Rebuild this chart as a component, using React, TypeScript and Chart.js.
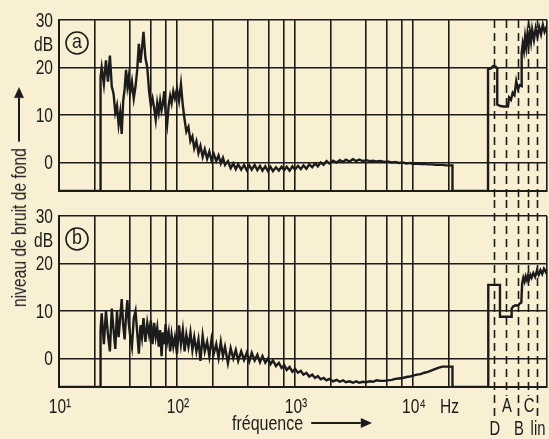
import React, { useEffect, useRef } from 'react';
import { Chart, registerables } from 'chart.js';

Chart.register(...registerables);

// ---------- data ----------
// shared frequency grid (Hz) for the two spectra
const freqHz = [
  10, 22.5, 22.5, 23, 24, 25, 26, 27, 28, 29, 30, 31, 32, 33, 34, 35, 36, 37, 38, 39, 40,
  41.5, 43, 44.5, 46, 47.5, 49, 50.5, 52, 54, 56, 58, 60, 62, 64, 66, 68, 70, 72, 74, 76, 78, 80,
  82.5, 85, 87.5, 90, 93, 96, 100, 104, 108, 112, 116, 120, 125, 130, 135, 140, 146, 152, 158,
  165, 172, 180, 188, 196, 205, 215, 225, 235, 245, 255, 270, 285, 300, 315, 330, 350, 370, 390,
  410, 430, 455, 480, 505, 530, 560, 590, 620, 650, 690, 730, 770, 810, 850, 900, 950, 1000,
  1060, 1120, 1180, 1250, 1320, 1400, 1480, 1560, 1650, 1750, 1850, 1950, 2100, 2250, 2400,
  2550, 2700, 2900, 3100, 3300, 3500, 3750, 4000, 4300, 4600, 4900, 5300, 5700, 6100, 6600,
  7100, 7600, 8200, 8800, 9400, 10000, 10800, 11600, 12500, 13400, 14400, 15500, 16600, 17800,
  19000, 20300, 21600,
];

// panel (a) level, dB
const levelA = [
  -6, -6, 18, 20, 16.5, 21.5, 17, 22.5, 16, 14.5, 10.5, 12, 8, 10.5, 6, 13, 15.5, 19.5, 16, 18, 14.5,
  17, 13.5, 16, 19.5, 25, 21, 24, 27.5, 22, 20, 15, 12, 13.5, 11.5, 9, 12.5, 10.5, 13, 11, 12.5, 15, 10.5,
  8, 12, 14, 12.5, 15, 13.5, 15.5, 13, 16.5, 12, 9, 6.5, 7.5, 4.5, 5.5, 3, 4.5, 2, 3.5,
  1.2, 2.8, 0.8, 2.3, 0.5, 1.8, 0.3, 1.5, -0.2, 1, -0.5, 0.3, -1.2, -0.2, -1.4, -0.4, -1.5, -0.5, -1.6,
  -0.6, -1.5, -0.5, -1.6, -0.7, -1.7, -0.8, -1.8, -0.9, -1.8, -1, -1.7, -0.9, -1.6, -0.9, -1.7, -0.8, -1.5, -0.7,
  -1.4, -0.6, -1.3, -0.4, -1, -0.2, -0.8, 0, -0.5, 0.3, -0.2, 0.4, 0, 0.5, 0.1,
  0.6, 0.2, 0.7, 0.3, 0.6, 0.3, 0.5, 0.3, 0.4, 0.2, 0.3, 0.1, 0.2, 0, 0.1,
  -0.1, 0, -0.2, -0.1, -0.3, -0.2, -0.3, -0.3, -0.4, -0.4, -0.5, -0.5, -0.5, -0.6,
  -0.6, -0.6, -0.6,
];

// panel (b) level, dB
const levelB = [
  -6, -6, 6, 9.5, 3, 10, 5, 1.5, 10.5, 6, 2, 10, 4.5, 8.5, 12.5, 7, 4, 9, 12.3, 7.5, 5,
  2.5, 8.5, 10, 5.5, 1, 7, 4.5, 8.5, 3.5, 7.5, 5, 8, 3, 7.5, 4.5, 6.5, 2.5, 6, 0.5, 5.5, 3, 7.2,
  3.5, 5.5, 1.5, 5, 2.5, 4.5, 1, 7, 3, 6, 1.5, 5, 2.5, 5.5, 1.8, 4.5, 1.5, 4, -0.5,
  4.8, 1.5, 3.5, 0.5, 4, 1, 3, 0.2, 3.5, 0.5, 2.5, -1, 2.2, 0, 1.8, -0.5, 1.5, -0.3, 1.2,
  -0.6, 1.2, -0.4, 0.8, -0.8, 0.5, -0.9, 0, -1.2, -0.4, -1.6, -0.9, -2, -1.4, -2.4, -1.8, -2.8, -2.2,
  -3, -2.6, -3.4, -3, -3.8, -3.4, -4.1, -3.7, -4.4, -4.1, -4.6, -4.3, -4.8, -4.5, -4.9,
  -4.6, -5, -4.8, -5.1, -4.8, -5.1, -4.9, -5, -4.8, -4.9, -4.6, -4.7, -4.7, -4.6, -4.5,
  -4.3, -4.2, -4.1, -3.9, -3.8, -3.6, -3.4, -3.3, -3, -2.8, -2.5, -2.2, -1.9, -1.7,
  -1.7, -1.7, -1.7,
];

// weighted-level section (positions in decades on the pseudo axis beyond 20 kHz)
const weightNames = ['D', 'A', 'B', 'C', 'lin'];
const weightLinePos = [4.686, 4.788, 4.89, 4.975, 5.051];

const weightPosA = [
  4.3345, 4.636, 4.636, 4.66, 4.68, 4.7, 4.714, 4.714, 4.74, 4.77, 4.805, 4.814, 4.83, 4.845,
  4.86, 4.875, 4.89, 4.905, 4.921, 4.921, 4.93, 4.94, 4.95, 4.96, 4.97, 4.98, 4.99, 5.0, 5.01,
  5.025, 5.04, 5.055, 5.07, 5.085, 5.1, 5.115, 5.1356,
];
const weightLevelA = [
  -6, -6, 19.6, 19.8, 20.3, 20.2, 19.8, 12.2, 11.9, 11.8, 11.8, 13.7, 13.2, 14.7,
  14.2, 17.1, 15.5, 16.3, 16.1, 23.1, 25, 23.5, 26.4, 24.3, 27, 25, 27.5, 25.5, 28,
  25.8, 28.3, 26.5, 28.5, 27, 29, 27.5, 28.8,
];

const weightPosB = [
  4.3345, 4.638, 4.638, 4.737, 4.737, 4.836, 4.836, 4.85, 4.87, 4.89, 4.905, 4.918, 4.925,
  4.935, 4.945, 4.955, 4.965, 4.975, 4.985, 4.995, 5.005, 5.02, 5.035, 5.05, 5.065, 5.08,
  5.095, 5.11, 5.125, 5.1356,
];
const weightLevelB = [
  -6, -6, 15.5, 15.5, 8.8, 8.8, 10.5, 11, 11.2, 11.1, 11.6, 11.8, 15.8,
  17, 16.2, 17.3, 16.5, 17.5, 16.8, 17.6, 17, 18, 17.2, 18.5, 17.6, 18.6,
  17.8, 18.9, 18.2, 18.8,
];

// axes
const gridFreqHz = [10, 20, 40, 60, 80, 100, 200, 400, 600, 800, 1000, 2000, 4000, 6000, 8000, 10000, 20000];
const labelFreqHz = [10, 100, 1000, 10000, 20000];
const labelText = ['10¹', '10²', '10³', '10⁴', 'Hz'];
const levelTicks = [0, 10, 20, 25, 30];
const levelTickText = ['0', '10', '20', 'dB', '30'];
const panelTags = ['a', 'b'];

const X_MIN = 1;
const X_MAX = 5.1356;
const Y_MIN = -6;
const Y_MAX = 30;

const BG = '#F9EFD2';
const INK = '#1c1c1c';
const FONT = "'Liberation Sans', Arial, sans-serif";
const SQUEEZE = 0.74;

function squeezedText(ctx: any, text: string, x: number, y: number, align: string, sx: number) {
  ctx.save();
  ctx.translate(x, y);
  ctx.scale(sx, 1);
  ctx.textAlign = align;
  ctx.fillText(text, 0, 0);
  ctx.restore();
}

function buildConfig(levels: number[], wPos: number[], wLev: number[], bottom: boolean, tag: string): any {
  const data = freqHz
    .map((f, i) => ({ x: Math.log10(f), y: levels[i] }))
    .concat(wPos.map((p, i) => ({ x: p, y: wLev[i] })));

  const overlay = {
    id: 'overlay',
    afterDraw(chart: any) {
      const ctx = chart.ctx;
      const xs = chart.scales.x;
      const ys = chart.scales.y;
      const area = chart.chartArea;
      ctx.save();
      // dashed weighting separators
      ctx.strokeStyle = INK;
      ctx.lineWidth = 1.6;
      ctx.setLineDash([8, 5]);
      weightLinePos.forEach((p, i) => {
        const px = Math.round(xs.getPixelForValue(p)) + 0.5;
        const y0 = bottom ? 0 : area.top;
        const y1 = bottom ? (i % 2 === 1 ? 196 : 216) : chart.height;
        ctx.beginPath();
        ctx.moveTo(px, y0);
        ctx.lineTo(px, y1);
        ctx.stroke();
      });
      ctx.setLineDash([]);

      ctx.fillStyle = INK;
      ctx.textBaseline = 'middle';
      // y tick labels
      ctx.font = `21px ${FONT}`;
      levelTicks.forEach((v, i) => {
        squeezedText(ctx, levelTickText[i], 53, ys.getPixelForValue(v) + 1, 'right', SQUEEZE);
      });
      // x tick labels
      if (bottom) {
        labelFreqHz.forEach((f, i) => {
          squeezedText(ctx, labelText[i], xs.getPixelForValue(Math.log10(f)) + 1, area.bottom + 20, 'center', SQUEEZE);
        });
      }

      // circled panel tag
      ctx.fillStyle = BG;
      ctx.beginPath();
      ctx.arc(77, area.top + 23, 11, 0, Math.PI * 2);
      ctx.fill();
      ctx.lineWidth = 1.6;
      ctx.stroke();
      ctx.fillStyle = INK;
      ctx.font = `21px ${FONT}`;
      squeezedText(ctx, tag, 77, area.top + 22, 'center', 0.85);

      // weighting names
      if (bottom) {
        ctx.font = `20px ${FONT}`;
        weightNames.forEach((n, i) => {
          const px = xs.getPixelForValue(weightLinePos[i]) + 1;
          const y = i % 2 === 1 ? 206 : 229;
          squeezedText(ctx, n, px, y, 'center', SQUEEZE);
        });
      }
      ctx.restore();
    },
  };

  return {
    type: 'line',
    data: {
      datasets: [
        {
          data,
          borderColor: INK,
          borderWidth: 2.4,
          pointRadius: 0,
          tension: 0,
          fill: false,
        },
      ],
    },
    options: {
      animation: false,
      responsive: false,
      events: [],
      layout: { padding: { top: bottom ? 16 : 20, right: 2, left: 0, bottom: 0 } },
      plugins: { legend: { display: false }, tooltip: { enabled: false }, title: { display: false } },
      scales: {
        x: {
          type: 'linear',
          min: X_MIN,
          max: X_MAX,
          afterBuildTicks: (s: any) => {
            s.ticks = gridFreqHz.map((f) => ({ value: Math.log10(f) })).concat([{ value: X_MAX }]);
          },
          afterFit: (s: any) => {
            s.height = bottom ? 52 : 9;
          },
          grid: { color: INK, lineWidth: 1.6, drawTicks: false },
          border: { color: INK, width: 2 },
          ticks: { display: false },
        },
        y: {
          type: 'linear',
          min: Y_MIN,
          max: Y_MAX,
          afterBuildTicks: (s: any) => {
            s.ticks = levelTicks.map((v) => ({ value: v }));
          },
          afterFit: (s: any) => {
            s.width = 59;
          },
          grid: {
            color: (c: any) => (c.tick && c.tick.value === 25 ? 'rgba(0,0,0,0)' : INK),
            lineWidth: 1.6,
            drawTicks: false,
          },
          border: { color: INK, width: 2 },
          ticks: { display: false },
        },
      },
    },
    plugins: [overlay],
  };
}

export default function App() {
  const topRef = useRef<HTMLCanvasElement | null>(null);
  const botRef = useRef<HTMLCanvasElement | null>(null);

  useEffect(() => {
    const charts: Chart[] = [];
    if (topRef.current) {
      charts.push(new Chart(topRef.current, buildConfig(levelA, weightPosA, weightLevelA, false, panelTags[0])));
    }
    if (botRef.current) {
      charts.push(new Chart(botRef.current, buildConfig(levelB, weightPosB, weightLevelB, true, panelTags[1])));
    }
    return () => charts.forEach((c) => c.destroy());
  }, []);

  const textStyle: React.CSSProperties = {
    fontFamily: FONT,
    fontSize: 20,
    color: INK,
    whiteSpace: 'nowrap',
    lineHeight: '22px',
  };

  const arrowLine = (len: number, head: number): React.ReactNode => (
    <>
      <span style={{ display: 'inline-block', flex: 'none', width: len, height: 2, background: INK }} />
      <span
        style={{
          display: 'inline-block',
          flex: 'none',
          width: 0,
          height: 0,
          borderTop: '5px solid transparent',
          borderBottom: '5px solid transparent',
          borderLeft: `${head}px solid ${INK}`,
        }}
      />
    </>
  );

  return (
    <div style={{ position: 'fixed', left: 0, top: 0, width: 549, height: 439, background: BG, overflow: 'hidden' }}>
      <canvas ref={topRef} width={549} height={200} style={{ position: 'absolute', left: 0, top: 0 }} />
      <canvas ref={botRef} width={549} height={239} style={{ position: 'absolute', left: 0, top: 200 }} />
      <div
        style={{
          ...textStyle,
          position: 'absolute',
          left: 19 - 145,
          top: 197 - 11,
          width: 290,
          height: 22,
          display: 'flex',
          alignItems: 'center',
          paddingLeft: 4,
          boxSizing: 'border-box',
          transform: 'rotate(-90deg) scale(0.78, 1)',
        }}
      >
        <span style={{ flex: 'none' }}>niveau de bruit de fond</span>
        <span style={{ flex: 'none', width: 8 }} />
        {arrowLine(56, 14)}
      </div>
      <div
        style={{
          ...textStyle,
          position: 'absolute',
          left: 232,
          top: 412,
          height: 22,
          display: 'flex',
          alignItems: 'center',
          transformOrigin: 'left center',
          transform: 'scale(0.8, 1)',
        }}
      >
        <span style={{ flex: 'none' }}>fréquence</span>
        <span style={{ flex: 'none', width: 10 }} />
        {arrowLine(62, 14)}
      </div>
    </div>
  );
}
